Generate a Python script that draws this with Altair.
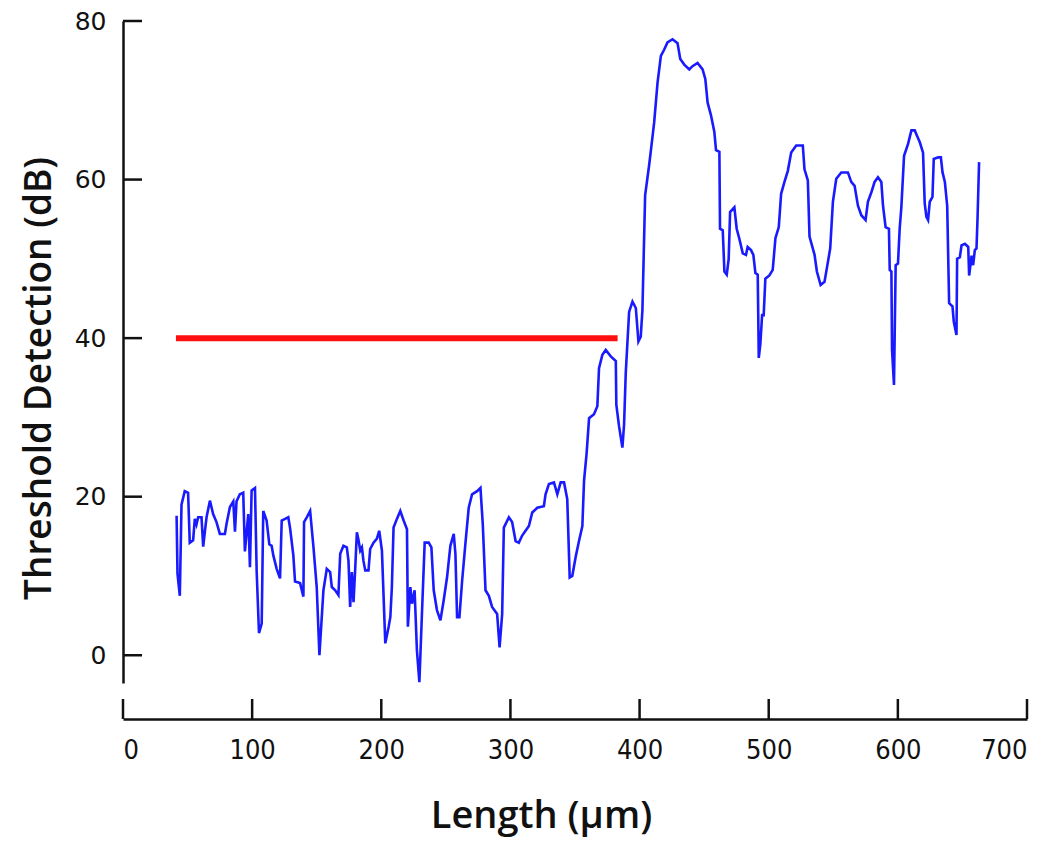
import altair as alt
import pandas as pd

# Blue trace: length (µm) and threshold detection (dB)
length_um = [41.5, 42.2, 44.0, 45.3, 47.8, 50.4, 51.7, 54.3, 55.6, 56.9, 58.2, 60.8, 62.1, 63.4, 64.7, 67.3, 69.8, 72.4, 75.0, 78.9,
             80.2, 82.8, 85.4, 86.7, 87.9, 90.5, 93.1, 94.4, 97.0, 98.3, 99.6, 102.2, 103.5, 105.3, 107.4, 108.6, 111.2, 113.3, 115.1, 116.4,
             119.0, 121.6, 122.9, 125.5, 128.0, 129.4, 131.9, 133.2, 137.1, 139.7, 140.2, 142.3, 144.9, 147.5, 150.0, 152.1, 155.2, 157.8, 160.4, 161.7,
             164.3, 166.8, 168.2, 170.7, 173.3, 174.6, 175.9, 177.2, 178.5, 179.8, 181.1, 182.4, 183.7, 185.0, 186.2, 187.6, 190.1, 191.4, 194.0, 196.6,
             198.4, 200.5, 203.1, 205.7, 207.0, 208.2, 209.5, 212.1, 214.7, 217.3, 219.9, 220.6, 222.5, 223.8, 225.8, 227.6, 229.5, 231.5, 233.6, 236.7,
             238.8, 240.6, 243.1, 245.8, 248.3, 250.9, 253.5, 256.1, 257.4, 258.7, 260.5, 262.6, 265.2, 267.7, 270.3, 274.2, 276.8, 278.6, 280.7, 283.3,
             285.8, 289.7, 291.6, 293.6, 294.9, 298.8, 301.3, 304.0, 306.5, 309.1, 311.7, 314.3, 316.9, 320.8, 325.9, 327.2, 329.8, 333.7, 336.3, 338.9,
             341.5, 344.0, 345.9, 347.9, 350.5, 353.1, 355.7, 357.0, 359.0, 360.9, 364.7, 367.3, 368.6, 371.2, 373.8, 377.7, 381.6, 382.0, 384.1, 386.7,
             388.0, 389.3, 391.9, 394.5, 397.1, 399.1, 400.9, 402.2, 404.3, 407.4, 409.5, 411.3, 413.9, 416.5, 419.1, 421.6, 425.5, 429.4, 431.5, 434.6,
             438.5, 441.0, 444.9, 448.8, 450.9, 452.7, 455.3, 457.9, 459.2, 461.8, 462.3, 464.4, 465.7, 467.5, 469.0, 470.1, 473.4, 475.2, 477.3, 479.9,
             482.4, 483.7, 486.3, 488.1, 489.7, 491.5, 492.3, 493.5, 494.9, 496.1, 497.4, 500.5, 503.1, 505.2, 507.8, 509.6, 512.2, 514.8, 517.4, 521.3,
             526.4, 527.7, 530.3, 531.6, 535.5, 537.3, 540.2, 543.2, 545.0, 547.6, 549.7, 552.3, 556.2, 561.3, 563.9, 566.5, 569.1, 571.7, 575.0, 576.8,
             579.5, 582.0, 584.6, 587.2, 588.5, 590.5, 593.1, 593.7, 595.0, 595.5, 597.0, 598.3, 600.1, 601.4, 602.7, 604.8, 607.9, 610.5, 613.1, 614.9,
             617.0, 619.5, 620.8, 622.1, 623.4, 624.7, 626.8, 627.8, 631.2, 633.3, 634.6, 636.4, 638.2, 639.7, 642.3, 643.3, 645.4, 645.9, 648.0, 649.3,
             651.9, 654.5, 655.2, 657.1, 658.3, 659.6, 660.9, 661.7, 662.9]
threshold_db = [17.6, 10.3, 7.5, 19.0, 20.7, 20.5, 14.2, 14.5, 17.2, 16.5, 17.4, 17.4, 13.7, 15.6, 17.4, 19.5, 17.8, 16.8, 15.3, 15.3,
                16.6, 18.7, 19.4, 15.6, 19.4, 20.3, 20.5, 13.1, 17.8, 11.1, 20.8, 21.1, 10.6, 2.8, 4.0, 18.2, 17.0, 14.0, 13.8, 12.6,
                10.9, 9.7, 17.0, 17.2, 17.4, 16.0, 12.6, 9.3, 9.1, 7.4, 16.8, 17.4, 18.2, 13.6, 8.6, 0.0, 8.2, 10.9, 10.5, 8.6,
                8.2, 7.6, 12.8, 13.8, 13.6, 11.9, 6.1, 10.5, 6.7, 10.9, 15.5, 14.5, 13.2, 13.6, 11.9, 10.7, 10.7, 13.4, 14.2, 14.7,
                15.7, 13.2, 1.5, 3.6, 4.8, 8.6, 16.1, 17.2, 18.2, 17.0, 15.9, 3.6, 8.6, 6.5, 8.2, 0.6, -3.4, 5.3, 14.2, 14.2,
                13.6, 8.2, 5.7, 4.4, 6.9, 9.8, 13.8, 15.3, 12.8, 4.8, 4.8, 9.4, 14.2, 18.6, 20.3, 20.7, 21.1, 16.5, 8.2, 7.5,
                6.1, 5.2, 1.0, 5.2, 16.1, 17.4, 16.8, 14.4, 14.2, 15.1, 15.7, 16.3, 18.0, 18.6, 18.8, 20.3, 21.6, 21.8, 20.3, 21.8,
                21.8, 19.7, 9.8, 10.0, 12.4, 14.4, 16.3, 22.0, 25.5, 29.9, 30.4, 31.4, 36.2, 37.9, 38.5, 37.7, 37.1, 31.6, 28.9, 26.2,
                29.1, 35.6, 43.3, 44.6, 43.8, 39.6, 40.2, 43.5, 58.0, 61.8, 64.7, 67.2, 72.2, 75.6, 76.4, 77.3, 77.7, 77.2, 75.2, 74.5,
                73.9, 74.3, 74.7, 73.9, 72.7, 69.7, 68.1, 66.0, 63.7, 63.5, 53.8, 53.6, 48.4, 48.0, 50.0, 55.9, 56.5, 53.8, 52.5, 50.7,
                50.5, 51.5, 51.1, 50.5, 48.2, 48.0, 37.5, 39.2, 42.9, 42.9, 47.5, 47.9, 48.6, 52.6, 54.0, 58.2, 59.7, 61.1, 63.4, 64.3,
                64.3, 61.3, 59.9, 52.8, 50.5, 48.4, 46.7, 47.1, 48.8, 51.3, 57.2, 60.1, 60.9, 60.9, 59.7, 59.2, 56.7, 55.5, 54.9, 57.2,
                58.4, 59.7, 60.3, 59.7, 56.7, 54.0, 53.8, 48.6, 48.4, 38.5, 34.1, 49.2, 49.4, 53.8, 56.5, 63.0, 64.5, 66.2, 66.2, 65.5,
                64.7, 63.4, 57.0, 55.3, 54.9, 57.2, 57.8, 62.6, 62.8, 62.8, 60.9, 59.7, 56.7, 44.4, 44.0, 42.1, 40.4, 50.0, 50.2, 51.7,
                51.9, 51.5, 47.9, 50.4, 49.2, 51.1, 51.3, 55.1, 62.2]

# Red threshold line
red_length = [41.0, 383.0]
red_db = [40.0, 40.0]

# Axis ticks
x_ticks = [0, 100, 200, 300, 400, 500, 600, 700]
y_ticks = [0, 20, 40, 60, 80]

W, H = 904, 662
X_OFFSET = 36

trace = pd.DataFrame({"length": length_um, "db": threshold_db, "i": list(range(len(length_um)))})
red = pd.DataFrame({"length": red_length, "db": red_db})
xt = pd.DataFrame({"length": x_ticks})
yt = pd.DataFrame({"db": y_ticks})

xscale = alt.Scale(domain=[0, 700], nice=False, zero=False)
yscale = alt.Scale(domain=[-3.5, 80], nice=False, zero=False)

x_axis = alt.Axis(
    values=x_ticks, ticks=False, grid=False, offset=X_OFFSET,
    domainColor="#111111", domainWidth=2.5,
    labelFont="DejaVu Sans Condensed, Roboto Condensed, Roboto, sans-serif", labelFontSize=27,
    labelColor="#111111", labelPadding=18,
    title="Length (µm)", titleFont="Open Sans", titleFontWeight=600, titleFontSize=38,
    titleColor="#111111", titlePadding=34, titleX=418,
)
y_axis = alt.Axis(
    values=y_ticks, ticks=False, grid=False,
    domainColor="#111111", domainWidth=2.5,
    labelFont="DejaVu Sans", labelFontSize=25, labelColor="#111111", labelPadding=17,
    title="Threshold Detection (dB)", titleFont="Open Sans", titleFontWeight=600, titleFontSize=37,
    titleColor="#111111", titlePadding=16, titleY=357,
)

line = alt.Chart(trace).mark_line(color="#1a1aff", strokeWidth=2.6).encode(
    x=alt.X("length:Q", scale=xscale, axis=x_axis),
    y=alt.Y("db:Q", scale=yscale, axis=y_axis),
    order=alt.Order("i:Q"),
)

red_line = alt.Chart(red).mark_line(color="#ff1010", strokeWidth=6).encode(
    x=alt.X("length:Q", scale=xscale),
    y=alt.Y("db:Q", scale=yscale),
)

ytick_marks = alt.Chart(yt).mark_rule(color="#111111", strokeWidth=2.5).encode(
    y=alt.Y("db:Q", scale=yscale),
    x=alt.value(0),
    x2=alt.value(19),
)

xtick_marks = alt.Chart(xt).mark_rule(color="#111111", strokeWidth=2.5).encode(
    x=alt.X("length:Q", scale=xscale),
    y=alt.value(H + X_OFFSET),
    y2=alt.value(H + X_OFFSET - 20),
)

chart = alt.layer(line, red_line, ytick_marks, xtick_marks).properties(
    width=W, height=H,
    background="white",
    autosize=alt.AutoSizeParams(type="none"),
    padding={"left": 115, "top": 13, "right": 15, "bottom": 156},
).configure_view(stroke="transparent", strokeWidth=0)

chart.save("out.html", embed_options={"renderer": "svg", "actions": False})
